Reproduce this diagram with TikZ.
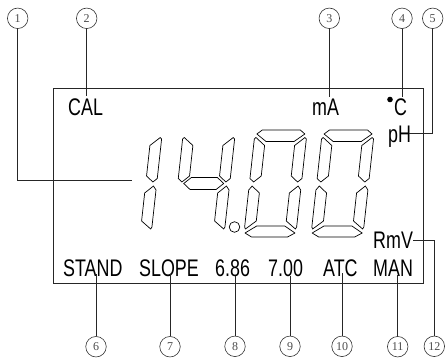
\documentclass[tikz,border=0pt]{standalone}
\usepackage{fontspec}
\newfontfamily\lcdfont[FakeStretch=0.745]{Liberation Sans}
\newfontfamily\numfont{Liberation Serif}
\newcommand\segA{\draw[seg] (7,0)--(45,0)--(50,4)--(40,11.5)--(12,11.5)--(2,4)--cycle;}
\newcommand\segF{\draw[seg] (0,9)--(1.5,7.5)--(11,15.5)--(11,46)--(4,52)--(0,48.5)--cycle;}
\newcommand\segB{\draw[seg] (52,9)--(50.5,7.5)--(41,15.5)--(41,46)--(48,52)--(52,48.5)--cycle;}
\newcommand\segG{\draw[seg] (6,53.5)--(13,47.5)--(39,47.5)--(46,53.5)--(39,59.5)--(13,59.5)--cycle;}
\newcommand\segE{\draw[seg] (0,60)--(3,56)--(11,63)--(11,91)--(1,99)--(0,97)--cycle;}
\newcommand\segC{\draw[seg] (52,60)--(49,56)--(41,63)--(41,91)--(51,99)--(52,97)--cycle;}
\newcommand\segD{\draw[seg] (8,107)--(44,107)--(51,103)--(40,96)--(12,96)--(1,103)--cycle;}
\newcommand\lcddigit[2]{\begin{scope}[shift={(#1,130)},xslant=0.11]#2\end{scope}}
\begin{document}
\begin{tikzpicture}[x=1pt,y=-1pt,
  circ/.style={draw=black!80,circle,minimum size=20.5pt,inner sep=0pt,line width=0.6pt,
    font=\numfont\fontsize{12}{12}\selectfont,text=black!70},
  lead/.style={draw=black!85,line width=0.8pt},
  lbl/.style={anchor=base west,inner sep=0pt,font=\lcdfont\fontsize{24}{24}\selectfont},
  seg/.style={draw=black,line width=0.7pt,line join=round}]
\useasboundingbox (0,0) rectangle (446,357);
% display frame
\draw[lead] (53.5,88.5) rectangle (423.5,283.3);
% seven-segment digits 14.00
\lcddigit{110.6}{\segB\segC}
\lcddigit{183.6}{\segF\segB\segG\segC}
\lcddigit{255.3}{\segA\segB\segC\segD\segE\segF}
\lcddigit{322.5}{\segA\segB\segC\segD\segE\segF}
\draw[seg] (234.5,227) circle (5.3);
% labels
\node[lbl] (cal) at (68,115) {CAL};
\node[lbl] (ma) at (312,115) {mA};
\node[lbl] (degc) at (394,115) {C};
\fill (390,99.5) circle (2.8);
\node[lbl] (ph) at (388,142) {pH};
\node[lbl] (rmv) at (373,248) {RmV};
\node[lbl] (stand) at (63,276) {STAND};
\node[lbl] (slope) at (139,276) {SLOPE};
\node[lbl] (b686) at (215,276) {6.86};
\node[lbl] (b700) at (268,276) {7.00};
\node[lbl] (atc) at (323,276) {ATC};
\node[lbl] (man) at (373,276) {MAN};
% callout circles
\node[circ] (c1) at (17.7,18.3) {1};
\node[circ] (c2) at (86.7,18.3) {2};
\node[circ] (c3) at (329.3,18.3) {3};
\node[circ] (c4) at (402,18.3) {4};
\node[circ] (c5) at (432.7,18.3) {5};
\node[circ] (c6) at (96,346.7) {6};
\node[circ] (c7) at (170,346.7) {7};
\node[circ] (c8) at (235,346.3) {8};
\node[circ] (c9) at (290,346.3) {9};
\node[circ] (c10) at (342,346.3) {10};
\node[circ] (c11) at (397.7,346.7) {11};
\node[circ] (c12) at (434.3,346.3) {12};
% leader ends
\coordinate (e1) at (131.7,180);
\coordinate (e2) at (86.7,96);
\coordinate (e3) at (329.3,97);
\coordinate (e4) at (402,97);
\coordinate (e5) at (409,133.3);
\coordinate (e12) at (413,240.7);
\coordinate (e6) at (96,274);
\coordinate (e7) at (170,274);
\coordinate (e8) at (235,276);
\coordinate (e9) at (290,276);
\coordinate (e10) at (342,273);
\coordinate (e11) at (397.7,275);
% leaders
\draw[lead] (c1.south) |- (e1);
\draw[lead] (c2.south) -- (e2);
\draw[lead] (c3.south) -- (e3);
\draw[lead] (c4.south) -- (e4);
\draw[lead] (c5.south) |- (e5);
\draw[lead] (c12.north) |- (e12);
\draw[lead] (c6.north) -- (e6);
\draw[lead] (c7.north) -- (e7);
\draw[lead] (c8.north) -- (e8);
\draw[lead] (c9.north) -- (e9);
\draw[lead] (c10.north) -- (e10);
\draw[lead] (c11.north) -- (e11);
\end{tikzpicture}
\end{document}
